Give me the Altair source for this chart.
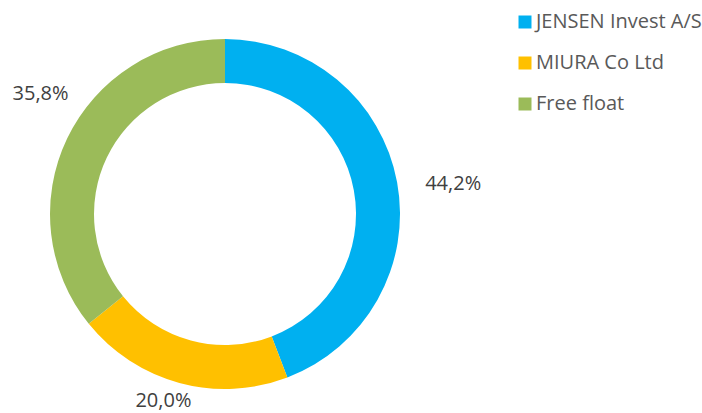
import altair as alt
import pandas as pd

owners = ["JENSEN Invest A/S", "MIURA Co Ltd", "Free float"]
shares = [44.2, 20.0, 35.8]
labels = ["44,2%", "20,0%", "35,8%"]
colors = ["#00B0F0", "#FFC000", "#9BBB59"]

df = pd.DataFrame({"owner": owners, "share": shares, "label": labels, "order": [0, 1, 2]})

CX, CY = 225, 214
FONT = "Open Sans"

base = alt.Chart(df).encode(
    theta=alt.Theta("share:Q", stack=True),
    order=alt.Order("order:Q"),
)

arc = base.mark_arc(outerRadius=175, innerRadius=131, x=CX, y=CY).encode(
    color=alt.Color(
        "owner:N",
        scale=alt.Scale(domain=owners, range=colors),
        sort=owners,
        legend=alt.Legend(
            title=None,
            orient="none",
            legendX=515,
            legendY=12,
            symbolType="square",
            symbolSize=169,
            symbolStrokeWidth=0,
            labelFont=FONT,
            labelFontSize=20,
            labelColor="#595959",
            labelLimit=400,
            rowPadding=21,
            labelOffset=1,
        ),
    )
)

label_style = [
    ("JENSEN Invest A/S", 232, 0, 12),
    ("MIURA Co Ltd", 194, -11, 0),
    ("Free float", 220, 14, -25),
]

texts = []
for owner, r, dx, dy in label_style:
    texts.append(
        base.mark_text(radius=r, x=CX, y=CY, dx=dx, dy=dy, font=FONT, fontSize=20, color="#404040")
        .encode(text="label:N", opacity=alt.condition(alt.datum.owner == owner, alt.value(1), alt.value(0)))
    )

chart = (
    alt.layer(arc, *texts)
    .properties(width=702, height=413, autosize=alt.AutoSizeParams(type="none"), padding=0)
    .configure_view(stroke=None)
)

chart.save("out.html", embed_options={"renderer": "svg", "actions": False})
